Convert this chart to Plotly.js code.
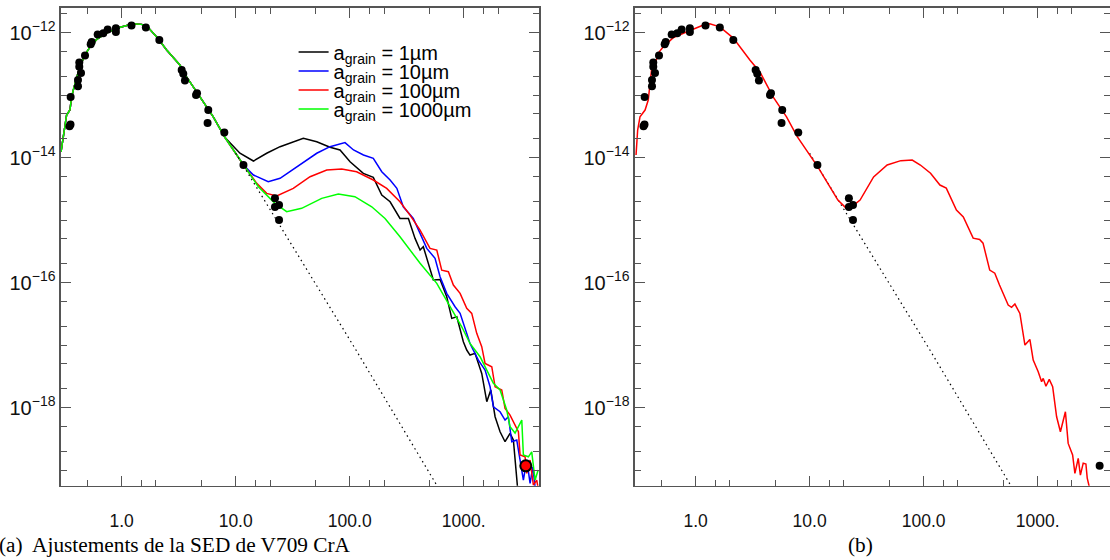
<!DOCTYPE html>
<html>
<head>
<meta charset="utf-8">
<script src="https://cdn.plot.ly/plotly-3.0.1.min.js"></script>
<style>html,body{margin:0;padding:0;background:#fff}#chart{width:1110px;height:560px}</style>
</head>
<body>
<div id="chart"></div>
<script>
// ---- Shared short-wavelength part of the models (µm, W m^-2) ----
const lamShort = [0.294,0.308,0.329,0.352,0.364,0.397,0.431,0.476,0.527,0.604,0.739,0.904,1.26,1.5,1.71,2.03,2.48,3.24,3.71,4.86,6.36,8.06];
const fluxShort = [1.23e-14,2.14e-14,4.79e-14,5.75e-14,9.33e-14,1.74e-13,2.82e-13,4.37e-13,5.89e-13,7.76e-13,9.77e-13,1.17e-12,1.38e-12,1.35e-12,1.20e-12,8.51e-13,5.25e-13,3.02e-13,1.95e-13,9.33e-14,4.47e-14,2.09e-14];

// ---- Panel (a): long-wavelength tails for each grain size ----
const lam1 = [10.9,14.3,18.7,24.5,39.2,51.4,67.2,82.2,100.7,131.6,161,191,226,276,327,374,414,442,541,620,709,785,869,992,1062,1135,1256,1438,1592,1726,1883,2082,2303,2547,2724,2951,3050];
const flux1 = [1.17e-14,8.79e-15,1.17e-14,1.49e-14,2.03e-14,1.79e-14,1.46e-14,1.32e-14,8.57e-15,5.58e-15,4.82e-15,2.51e-15,1.96e-15,1.06e-15,1.06e-15,5.09e-16,3.31e-16,3.74e-16,1.10e-16,1.12e-16,5.93e-17,2.67e-17,2.84e-17,1.13e-17,8.32e-18,6.92e-18,7.36e-18,3.52e-18,1.24e-18,1.91e-18,7.13e-19,4.10e-19,2.84e-19,3.86e-19,3.02e-19,5.75e-20,2.5e-20];

const lam10 = [11.7,14.3,19.3,24.5,36.6,51.4,67.2,90.9,108,132,161,191,226,259,295,327,361,414,474,560,620,709,839,929,1062,1135,1343,1538,1702,1820,2082,2303,2462,2637,2917,3119,3334,3570,3818,4030,4224,4500];
const flux10 = [7.59e-15,5.25e-15,4.10e-15,4.65e-15,7.59e-15,1.17e-14,1.49e-14,1.73e-14,1.32e-14,1.10e-14,9.70e-15,5.93e-15,4.37e-15,3.21e-15,1.63e-15,1.28e-15,1.06e-15,6.12e-16,3.52e-16,2.44e-16,1.24e-16,6.71e-17,4.10e-17,3.21e-17,1.54e-17,1.06e-17,5.75e-18,3.98e-18,2.15e-18,1.03e-18,8.57e-19,6.31e-19,7.13e-19,2.84e-19,3.02e-19,1.45e-19,6.92e-20,1.45e-19,6.12e-20,1.13e-19,5.41e-20,3.16e-20];

const lam100 = [11.7,15.3,18.7,22.9,32.0,44.9,62.9,85.1,115,161,211,276,338,414,506,580,641,733,811,929,1062,1175,1300,1438,1538,1761,1883,2154,2303,2547,2818,3015,3119,3451,3570,3818,4080,4365,4600];
const flux100 = [7.59e-15,3.86e-15,2.67e-15,2.42e-15,3.21e-15,4.93e-15,6.31e-15,6.55e-15,5.93e-15,4.37e-15,3.21e-15,1.96e-15,1.20e-15,6.92e-16,3.52e-16,3.31e-16,1.58e-16,1.49e-16,9.12e-17,6.71e-17,3.86e-17,3.21e-17,1.54e-17,9.40e-18,5.09e-18,4.50e-18,2.15e-18,1.91e-18,9.70e-19,7.59e-19,5.25e-19,4.10e-19,1.74e-19,1.63e-19,8.85e-20,1.45e-19,5.75e-20,6.92e-20,3.98e-20];

const lam1000 = [12.1,15.8,22.1,28.0,37.9,56.8,79.4,111,156,204,276,414,580,759,960,1135,1390,1592,1820,2082,2382,2547,2818,3228,3334,3690,3946,4224,4490];
const flux1000 = [7.13e-15,3.41e-15,1.85e-15,1.36e-15,1.54e-15,2.22e-15,2.61e-15,2.36e-15,1.63e-15,1.06e-15,5.41e-16,2.03e-16,9.70e-17,4.10e-17,1.96e-17,1.06e-17,6.50e-18,3.98e-18,2.44e-18,1.91e-18,9.12e-19,4.93e-19,3.91e-19,6.31e-19,1.74e-19,1.63e-19,1.96e-19,6.92e-20,1.00e-19];

// ---- Panel (b): best-fit model ----
const lamFit = [0.30,0.31,0.325,0.36,0.384,0.397,0.41,0.44,0.47,0.52,0.64,0.83,1.17,1.33,1.63,2.14,2.99,3.66,4.78,6.27,7.81,11.8,17.7,20.9,22.6,27.7,36.4,47.9,63.1,79.4,93.6,115,139,158,194,223,272,310,332,380,421,463,499,552,591,632,699,774,855,915,1012,1084,1120,1183,1265,1355,1468,1585,1753,1854,2028,2124,2271,2373,2512,2653,2724,2838,2950];
const fluxFit = [1.10e-14,2.75e-14,4.47e-14,5.75e-14,8.32e-14,1.62e-13,2.51e-13,3.02e-13,4.68e-13,5.89e-13,8.32e-13,1.02e-12,1.32e-12,1.38e-12,1.23e-12,8.13e-13,3.63e-13,2.34e-13,9.33e-14,4.47e-14,2.14e-14,7.08e-15,2.09e-15,1.55e-15,1.55e-15,2.09e-15,4.90e-15,7.59e-15,8.91e-15,9.12e-15,7.59e-15,5.62e-15,3.63e-15,3.24e-15,1.45e-15,1.12e-15,5.13e-16,4.90e-16,4.27e-16,1.58e-16,1.41e-16,9.12e-17,6.71e-17,4.37e-17,4.01e-17,4.53e-17,3.21e-17,1.00e-17,1.23e-17,5.75e-18,3.74e-18,2.59e-18,2.93e-18,2.19e-18,2.82e-18,2.15e-18,7.13e-19,4.10e-19,8.57e-19,2.67e-19,1.74e-19,8.85e-20,1.54e-19,8.32e-20,1.29e-19,1.25e-19,7.45e-20,5.41e-20,3.16e-20];

// ---- Stellar photosphere (dotted) ----
const lamStar = [10, 13.4, 111, 583, 700];
const fluxStar = [1.17e-14, 4.9e-15, 8.91e-18, 5.62e-20, 3.47e-20];

// ---- Observed photometry ----
const lamObs = [0.349,0.356,0.357,0.414,0.414,0.44,0.425,0.425,0.477,0.535,0.546,0.616,0.69,0.754,0.89,0.89,1.22,1.63,2.14,3.36,3.47,3.59,4.49,4.58,5.75,5.67,7.95,11.7,22.1,22.1,24.0,24.0];
const fluxObs = [3.16e-14,3.39e-14,9.33e-14,1.38e-13,1.74e-13,2.24e-13,2.82e-13,3.31e-13,4.27e-13,6.46e-13,7.08e-13,9.33e-13,9.77e-13,1.12e-12,1.17e-12,1.02e-12,1.29e-12,1.20e-12,7.59e-13,2.51e-13,2.19e-13,1.70e-13,1.00e-13,1.07e-13,5.75e-14,3.55e-14,2.51e-14,7.59e-15,2.24e-15,1.62e-15,1.74e-15,1.00e-15];
const lamMm = [3500];
const fluxMm = [1.17e-19];

const legendNames = ['a<sub>grain</sub> = 1µm','a<sub>grain</sub> = 10µm','a<sub>grain</sub> = 100µm','a<sub>grain</sub> = 1000µm'];
const xMajor = [1, 10, 100, 1000];
const xMajorText = ['1.0', '10.0', '100.0', '1000.'];
const xMinor = [0.5, 1.5, 2, 5, 15, 20, 50, 150, 200, 500, 1500, 2000];
const yMajor = [1e-18, 1e-16, 1e-14, 1e-12];
const yMajorText = ['10<sup>−18</sup>', '10<sup>−16</sup>', '10<sup>−14</sup>', '10<sup>−12</sup>'];
const yMinor = [];
for (let e = -20; e <= -12; e++) {
  [1, 2, 5].forEach(m => { const v = m * Math.pow(10, e); if (!(m === 1 && e % 2 === 0)) yMinor.push(v); });
}
const caption = ['(a)  Ajustements de la SED de V709 CrA', '(b)'];

const joinL = a => lamShort.concat(a);
const joinF = a => fluxShort.concat(a);

const lineW = 1.5;
const dotted = {color: '#000', width: 1.2, dash: '1.5px,3.5px'};
const traces = [
  {x: joinL(lam1), y: joinF(flux1), name: legendNames[0], legend: 'legend', mode: 'lines', line: {color: '#000000', width: lineW}, xaxis: 'x', yaxis: 'y'},
  {x: joinL(lam10), y: joinF(flux10), name: legendNames[1], legend: 'legend2', mode: 'lines', line: {color: '#0000ff', width: lineW}, xaxis: 'x', yaxis: 'y'},
  {x: joinL(lam100), y: joinF(flux100), name: legendNames[2], legend: 'legend3', mode: 'lines', line: {color: '#ff0000', width: lineW}, xaxis: 'x', yaxis: 'y'},
  {x: joinL(lam1000), y: joinF(flux1000), name: legendNames[3], legend: 'legend4', mode: 'lines', line: {color: '#00ff00', width: lineW}, xaxis: 'x', yaxis: 'y'},
  {x: lamStar, y: fluxStar, mode: 'lines', line: dotted, showlegend: false, xaxis: 'x', yaxis: 'y'},
  {x: lamObs, y: fluxObs, mode: 'markers', marker: {color: '#000', size: 8}, showlegend: false, xaxis: 'x', yaxis: 'y'},
  {x: lamMm, y: fluxMm, mode: 'markers', marker: {color: '#ff0000', size: 11, line: {color: '#000', width: 2}}, showlegend: false, xaxis: 'x', yaxis: 'y'},
  {x: lamStar, y: fluxStar, mode: 'lines', line: dotted, showlegend: false, xaxis: 'x2', yaxis: 'y2'},
  {x: lamFit, y: fluxFit, mode: 'lines', line: {color: '#ff0000', width: lineW}, showlegend: false, xaxis: 'x2', yaxis: 'y2'},
  {x: lamObs.concat(lamMm), y: fluxObs.concat(fluxMm), mode: 'markers', marker: {color: '#000', size: 8}, showlegend: false, xaxis: 'x2', yaxis: 'y2'}
];

const axisColor = '#555555';
const fam = 'Liberation Sans, Arial, sans-serif';
function xAxis(domain, rangeEnd, anchor) {
  return {
    type: 'log', domain: domain, range: [-0.532, rangeEnd], anchor: anchor,
    showgrid: false, zeroline: false, showline: true, linecolor: axisColor, linewidth: 1.5, mirror: 'allticks',
    ticks: 'inside', ticklen: 10, tickwidth: 1.2, tickcolor: axisColor,
    tickmode: 'array', tickvals: xMajor, ticktext: xMajorText, tickfont: {family: fam, size: 17.5, color: '#111'}, ticklabelstandoff: 19,
    minor: {tickmode: 'array', tickvals: xMinor, ticks: 'inside', ticklen: 6, tickwidth: 1, tickcolor: axisColor}
  };
}
function yAxis(anchor) {
  return {
    type: 'log', domain: [0.1327, 0.9866], range: [-19.25, -11.6], anchor: anchor,
    showgrid: false, zeroline: false, showline: true, linecolor: axisColor, linewidth: 1.5, mirror: 'allticks',
    ticks: 'inside', ticklen: 10, tickwidth: 1.2, tickcolor: axisColor,
    tickmode: 'array', tickvals: yMajor, ticktext: yMajorText, tickfont: {family: fam, size: 20, color: '#111'},
    minor: {tickmode: 'array', tickvals: yMinor, ticks: 'inside', ticklen: 6, tickwidth: 1, tickcolor: axisColor}
  };
}
function legendAt(rowY) {
  return {x: 0.2645, y: 1 - rowY / 560, xanchor: 'left', yanchor: 'middle', bgcolor: 'rgba(0,0,0,0)',
          font: {family: fam, size: 20, color: '#000'}, itemwidth: 30};
}

const layout = {
  width: 1110, height: 560,
  margin: {l: 0, r: 0, t: 0, b: 0},
  paper_bgcolor: '#fff', plot_bgcolor: '#fff',
  showlegend: true,
  legend: legendAt(52), legend2: legendAt(71), legend3: legendAt(90), legend4: legendAt(109),
  xaxis: xAxis([0.05495, 0.48559], 3.660, 'y'),
  yaxis: yAxis('x'),
  xaxis2: xAxis([0.57207, 1.0], 3.635, 'y2'),
  yaxis2: yAxis('x2'),
  annotations: [
    {xref: 'paper', yref: 'paper', x: 175 / 1110, y: 1 - 545 / 560, text: caption[0], showarrow: false, xanchor: 'center', yanchor: 'middle',
     font: {family: 'Liberation Serif, Times New Roman, serif', size: 21.3, color: '#000'}},
    {xref: 'paper', yref: 'paper', x: 860 / 1110, y: 1 - 545 / 560, text: caption[1], showarrow: false, xanchor: 'center', yanchor: 'middle',
     font: {family: 'Liberation Serif, Times New Roman, serif', size: 21.3, color: '#000'}}
  ]
};

Plotly.newPlot('chart', traces, layout, {staticPlot: true, displayModeBar: false});
</script>
</body>
</html>
